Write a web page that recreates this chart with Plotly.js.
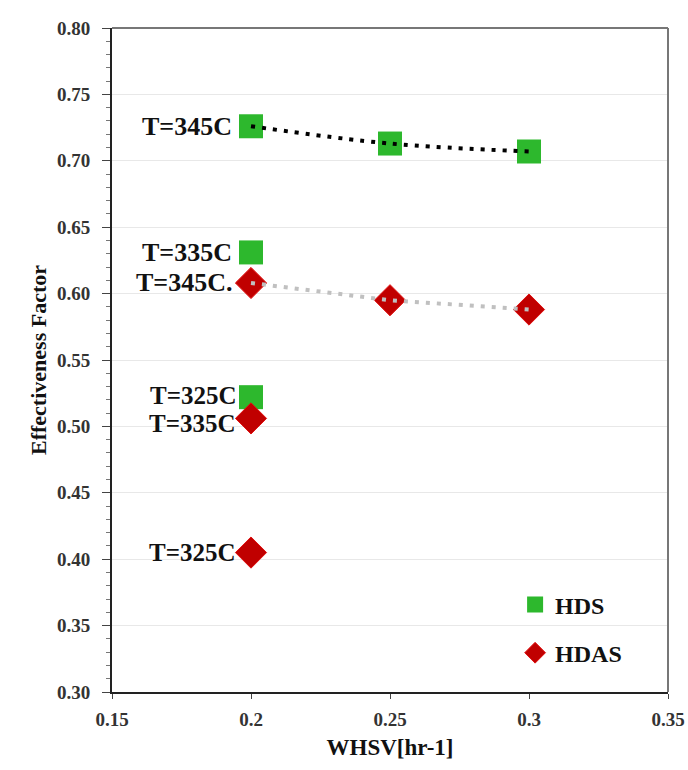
<!DOCTYPE html>
<html>
<head>
<meta charset="utf-8">
<script src="https://cdn.plot.ly/plotly-3.0.1.min.js"></script>
<style>
  html, body { margin: 0; padding: 0; background: #ffffff; }
  #chart { width: 688px; height: 770px; }
</style>
</head>
<body>
<div id="chart"></div>
<script>
// Effectiveness factor of HDS and HDAS versus weight hourly space velocity
const hdsWhsv = [0.2, 0.25, 0.3, 0.2, 0.2];
const hdsEff = [0.726, 0.713, 0.707, 0.631, 0.522];
const hdasWhsv = [0.2, 0.25, 0.3, 0.2, 0.2];
const hdasEff = [0.608, 0.595, 0.588, 0.506, 0.405];

// Series at T = 345C, joined by dotted lines
const hds345Whsv = [0.2, 0.25, 0.3];
const hds345Eff = [0.726, 0.713, 0.707];
const hdas345Whsv = [0.2, 0.25, 0.3];
const hdas345Eff = [0.608, 0.595, 0.588];

// Temperature labels beside the points at WHSV 0.2
const labelText = ["T=345C", "T=335C", "T=345C.", "T=325C", "T=335C", "T=325C"];
const labelWhsv = [0.2, 0.2, 0.2, 0.2, 0.2, 0.2];
const labelEff = [0.726, 0.631, 0.608, 0.522, 0.506, 0.405];
const labelShift = [-17, -17, -17, -13, -14, -14];
const labelLift = [0, 0, 0, 2, -5, 0];
const labelSize = [26, 26, 26, 25, 25, 25];

const serif = "'Liberation Serif', 'Times New Roman', serif";

const traces = [
  {
    x: hdsWhsv, y: hdsEff, type: "scatter", mode: "markers", name: "HDS",
    legendgroup: "a",
    marker: { symbol: "square", size: 24, color: "#2db82d" }
  },
  {
    x: hdasWhsv, y: hdasEff, type: "scatter", mode: "markers", name: "HDAS",
    legendgroup: "b",
    marker: { symbol: "diamond", size: 24, color: "#c00000",
              line: { color: "#e01010", width: 1 } }
  },
  {
    x: hds345Whsv, y: hds345Eff, type: "scatter", mode: "lines",
    showlegend: false, hoverinfo: "skip",
    line: { color: "#000000", width: 4, dash: "4px,7px", shape: "spline" }
  },
  {
    x: hdas345Whsv, y: hdas345Eff, type: "scatter", mode: "lines",
    showlegend: false, hoverinfo: "skip",
    line: { color: "#c0c0c0", width: 4, dash: "4px,7px" }
  }
];

const annotations = labelText.map((t, i) => ({
  x: labelWhsv[i], y: labelEff[i], xref: "x", yref: "y",
  text: "<b>" + t + "</b>", showarrow: false,
  xanchor: "right", yanchor: "middle",
  xshift: labelShift[i], yshift: labelLift[i],
  font: { family: serif, size: labelSize[i], color: "#111111" }
}));

const layout = {
  width: 688, height: 770,
  margin: { l: 112, r: 20, t: 28, b: 78 },
  paper_bgcolor: "#ffffff", plot_bgcolor: "#ffffff",
  showlegend: true,
  legend: {
    x: 0.725, y: 0.165, xanchor: "left", yanchor: "top",
    bgcolor: "rgba(255,255,255,0)",
    traceorder: "grouped", tracegroupgap: 14,
    font: { family: serif, size: 24, color: "#111111", weight: "bold" },
    itemwidth: 30
  },
  xaxis: {
    range: [0.15, 0.35], tickvals: [0.15, 0.2, 0.25, 0.3, 0.35],
    ticktext: ["0.15", "0.2", "0.25", "0.3", "0.35"],
    showgrid: false, zeroline: false,
    showline: true, linecolor: "#222222", linewidth: 2,
    ticks: "outside", ticklen: 5, tickcolor: "#444444",
    tickfont: { family: serif, size: 19, color: "#333333", weight: "bold" },
    ticklabelstandoff: 4,
    title: { text: "<b>WHSV[hr-1]</b>", standoff: 10,
             font: { family: serif, size: 23, color: "#111111" } }
  },
  yaxis: {
    range: [0.30, 0.80], dtick: 0.05, tickformat: ".2f",
    showgrid: true, gridcolor: "#e8e8e8", gridwidth: 1, zeroline: false,
    showline: true, linecolor: "#222222", linewidth: 2,
    ticks: "outside", ticklen: 8, tickcolor: "#444444",
    minor: { dtick: 0.01, ticks: "outside", ticklen: 4, tickcolor: "#777777", showgrid: false },
    tickfont: { family: serif, size: 19, color: "#333333", weight: "bold" },
    ticklabelstandoff: 8,
    title: { text: "<b>Effectiveness Factor</b>", standoff: 4,
             font: { family: serif, size: 22, color: "#111111" } }
  },
  shapes: [
    { type: "line", xref: "paper", yref: "paper", x0: 0, x1: 1, y0: 1, y1: 1,
      line: { color: "#777777", width: 2 } },
    { type: "line", xref: "paper", yref: "paper", x0: 1, x1: 1, y0: 0, y1: 1,
      line: { color: "#777777", width: 2 } }
  ],
  annotations: annotations
};

Plotly.newPlot("chart", traces, layout, { displayModeBar: false, staticPlot: true });
</script>
</body>
</html>
